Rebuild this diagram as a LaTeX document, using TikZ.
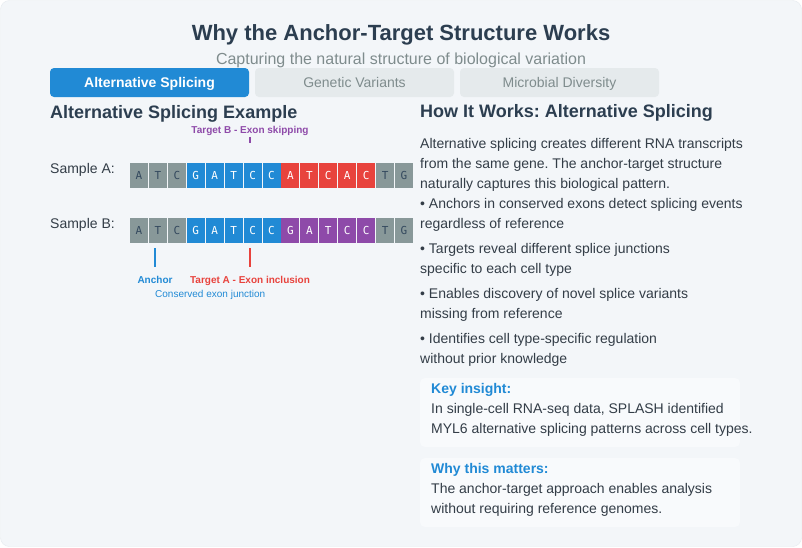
\documentclass[tikz,border=0pt]{standalone}
\usepackage{xcolor}
\usepackage{fontspec}
\setmainfont{Liberation Sans}
\newfontfamily\basefont{DejaVu Sans Mono}
\usepackage{tikz}
\usetikzlibrary{positioning}
\frenchspacing

\definecolor{pagebg}{HTML}{F3F6F9}
\definecolor{pageedge}{HTML}{E6EBEF}
\definecolor{boxbg}{HTML}{F8FAFC}
\definecolor{titlecol}{HTML}{2C3E50}
\definecolor{bodytext}{HTML}{333D47}
\definecolor{subgray}{HTML}{7F8C8D}
\definecolor{tabgray}{HTML}{E5EAEC}
\definecolor{seqgray}{HTML}{889899}
\definecolor{seqtext}{HTML}{34495E}
\definecolor{seqblue}{HTML}{218AD5}
\definecolor{seqred}{HTML}{E8433D}
\definecolor{seqpurple}{HTML}{8E4AA9}

\begin{document}
\begin{tikzpicture}[x=1pt, y=-1pt,
    cell/.style={minimum width=18pt, minimum height=25pt, inner sep=0pt,
        font=\basefont\fontsize{11}{11}\selectfont},
    tab/.style={rounded corners=4pt, minimum width=199pt, minimum height=29pt,
        inner sep=0pt, text height=10pt, text depth=0pt, font=\fontsize{14}{14}\selectfont},
    marker/.style={line width=2pt},
    para/.style={anchor=north west, inner sep=0pt, align=left, text=bodytext,
        font=\fontsize{14}{20}\selectfont},
    lbl/.style={anchor=base, inner sep=0pt, font=\bfseries\fontsize{10}{12}\selectfont},
    infobox/.style={fill=boxbg, rounded corners=5pt}
]
    \useasboundingbox (0,0) rectangle (802,547);
    \fill[white] (0,0) rectangle (802,547);
    \filldraw[fill=pagebg, draw=pageedge, rounded corners=9pt] (0.5,0.5) rectangle (801.5,546.5);

    % Header
    \node[anchor=base, inner sep=0pt, text=titlecol, font=\bfseries\fontsize{22}{26}\selectfont]
        (title) at (401,40) {Why the Anchor-Target Structure Works};
    \node[anchor=base, inner sep=0pt, text=subgray, font=\fontsize{16}{18}\selectfont]
        (subtitle) at (401,64) {Capturing the natural structure of biological variation};

    % Tabs
    \node[tab, fill=seqblue, text=white, font=\bfseries\fontsize{14}{14}\selectfont]
        (tabSplice) at (149.5,82.5) {Alternative Splicing};
    \node[tab, fill=tabgray, text=subgray] (tabVariant) at (354.5,82.5) {Genetic Variants};
    \node[tab, fill=tabgray, text=subgray] (tabMicrobe) at (559.5,82.5) {Microbial Diversity};

    % Left column: example
    \node[anchor=base west, inner sep=0pt, text=titlecol, font=\bfseries\fontsize{18}{20}\selectfont]
        (exHead) at (50,118.5) {Alternative Splicing Example};

    \node[lbl, text=seqpurple] (skipLbl) at (250,133.6) {Target B - Exon skipping};
    \coordinate (skipTop) at (250,137);
    \coordinate (skipBot) at (250,143);
    \draw[marker, seqpurple] (skipTop) -- (skipBot);

    \node[anchor=base west, inner sep=0pt, text=bodytext, font=\fontsize{14}{16}\selectfont]
        (sampleA) at (50,173) {Sample A:};
    \foreach \ch/\col/\txt [count=\i] in {A/seqgray/seqtext, T/seqgray/seqtext, C/seqgray/seqtext,
        G/seqblue/white, A/seqblue/white, T/seqblue/white, C/seqblue/white, C/seqblue/white,
        A/seqred/white, T/seqred/white, C/seqred/white, A/seqred/white, C/seqred/white,
        T/seqgray/seqtext, G/seqgray/seqtext}
        \node[cell, fill=\col, text=\txt] (a\i) at ({139+(\i-1)*18.93},175) {\ch};

    \node[anchor=base west, inner sep=0pt, text=bodytext, font=\fontsize{14}{16}\selectfont]
        (sampleB) at (50,228) {Sample B:};
    \foreach \ch/\col/\txt [count=\i] in {A/seqgray/seqtext, T/seqgray/seqtext, C/seqgray/seqtext,
        G/seqblue/white, A/seqblue/white, T/seqblue/white, C/seqblue/white, C/seqblue/white,
        G/seqpurple/white, A/seqpurple/white, T/seqpurple/white, C/seqpurple/white, C/seqpurple/white,
        T/seqgray/seqtext, G/seqgray/seqtext}
        \node[cell, fill=\col, text=\txt] (b\i) at ({139+(\i-1)*18.93},230.5) {\ch};

    % Anchor and target markers
    \coordinate (anchorTop) at (155,248);
    \coordinate (anchorBot) at (155,267);
    \draw[marker, seqblue] (anchorTop) -- (anchorBot);
    \coordinate (inclTop) at (250,248);
    \coordinate (inclBot) at (250,267);
    \draw[marker, seqred] (inclTop) -- (inclBot);

    \node[lbl, text=seqblue] (anchorLbl) at (155,283.5) {Anchor};
    \node[lbl, text=seqred] (inclLbl) at (250,283.5) {Target A - Exon inclusion};
    \node[anchor=base west, inner sep=0pt, text=seqblue, font=\fontsize{10}{12}\selectfont]
        (junctionLbl) at (155,297.5) {Conserved exon junction};

    % Right column: explanation
    \node[anchor=base west, inner sep=0pt, text=titlecol, font=\bfseries\fontsize{18}{20}\selectfont]
        (howHead) at (420,117.5) {How It Works: Alternative Splicing};

    \node[para] (intro) at (420,134) {\strut Alternative splicing creates different RNA transcripts\\
        from the same gene. The anchor-target structure\\
        naturally captures this biological pattern.\\
        • Anchors in conserved exons detect splicing events\\
        regardless of reference};
    \node[para] (pointTargets) at (420,239) {\strut • Targets reveal different splice junctions\\
        specific to each cell type};
    \node[para] (pointNovel) at (420,284) {\strut • Enables discovery of novel splice variants\\
        missing from reference};
    \node[para] (pointRegul) at (420,329) {\strut • Identifies cell type-specific regulation\\
        without prior knowledge};

    % Insight boxes
    \fill[infobox] (420,378) rectangle (740,447);
    \node[para] (insight) at (431,379) {\strut\textcolor{seqblue}{\bfseries Key insight:}\\
        In single-cell RNA-seq data, SPLASH identified\\
        MYL6 alternative splicing patterns across cell types.};

    \fill[infobox] (420,458) rectangle (740,527);
    \node[para] (matters) at (431,459) {\strut\textcolor{seqblue}{\bfseries Why this matters:}\\
        The anchor-target approach enables analysis\\
        without requiring reference genomes.};
\end{tikzpicture}
\end{document}
